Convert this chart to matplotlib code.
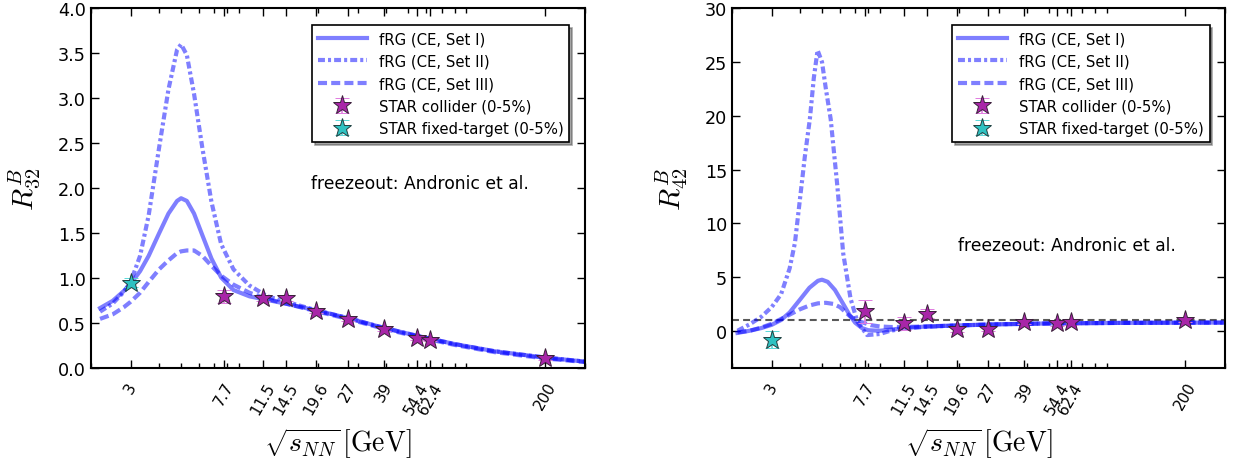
import numpy as np
import matplotlib
matplotlib.use('Agg')
import matplotlib.pyplot as plt
from matplotlib.ticker import FixedLocator, LogLocator, NullFormatter

plt.rcParams['mathtext.fontset'] = 'cm'
plt.rcParams['font.family'] = ['DejaVu Sans']
plt.rcParams['lines.scale_dashes'] = False

# ---------------- data ----------------
tick_energies = [3, 7.7, 11.5, 14.5, 19.6, 27, 39, 54.4, 62.4, 200]
tick_labels = ['3', '7.7', '11.5', '14.5', '19.6', '27', '39', '54.4', '62.4', '200']

star_energies = [7.7, 11.5, 14.5, 19.6, 27, 39, 54.4, 62.4, 200]
star_r32 = [0.80, 0.78, 0.78, 0.64, 0.55, 0.44, 0.34, 0.32, 0.11]
star_r32_err = [0.07, 0.03, 0.03, 0.02, 0.02, 0.02, 0.02, 0.02, 0.02]
star_r42 = [1.80, 0.68, 1.58, 0.18, 0.21, 0.80, 0.68, 0.83, 0.98]
star_r42_err = [1.10, 0.60, 0.40, 0.30, 0.25, 0.20, 0.25, 0.25, 0.20]

ft_energy = [3.0]
ft_r32 = [0.95]
ft_r32_err = [0.05]
ft_r42 = [-0.85]
ft_r42_err = [0.80]

# R32 curves
r32_x = [2.2, 2.5, 2.8, 3.0, 3.3, 3.6, 4.0, 4.4, 4.8, 5.0, 5.3, 5.7, 6.2, 6.8,
         7.5, 8.5, 10, 12, 15, 20, 27, 39, 55, 80, 120, 200, 300]
r32_set1 = [0.67, 0.75, 0.86, 0.94, 1.08, 1.25, 1.50, 1.72, 1.86, 1.89, 1.86, 1.72,
            1.48, 1.22, 1.01, 0.87, 0.80, 0.76, 0.71, 0.64, 0.56, 0.45, 0.36, 0.27,
            0.19, 0.12, 0.075]
r32_set2 = [0.63, 0.72, 0.85, 0.96, 1.25, 1.70, 2.45, 3.10, 3.54, 3.60, 3.48, 3.05,
            2.45, 1.85, 1.38, 1.10, 0.92, 0.80, 0.73, 0.64, 0.56, 0.45, 0.36, 0.27,
            0.19, 0.12, 0.075]
r32_set3 = [0.55, 0.60, 0.68, 0.74, 0.84, 0.96, 1.10, 1.20, 1.28, 1.30, 1.31, 1.31,
            1.25, 1.14, 1.03, 0.93, 0.84, 0.77, 0.71, 0.63, 0.55, 0.44, 0.35, 0.26,
            0.18, 0.11, 0.07]

# R42 curves
r42_x1 = [2.12, 2.4, 2.7, 3.0, 3.3, 3.6, 4.0, 4.4, 4.8, 5.0, 5.3, 5.7, 6.2, 6.6,
          7.0, 7.5, 8.0, 9.0, 10, 11.5, 14, 20, 30, 50, 100, 200, 300]
r42_set1 = [-0.20, 0.00, 0.25, 0.55, 1.00, 1.70, 2.90, 4.00, 4.65, 4.75, 4.55, 3.80,
            2.50, 1.50, 0.75, 0.25, 0.05, 0.00, 0.10, 0.25, 0.38, 0.50, 0.60, 0.68,
            0.73, 0.75, 0.76]
r42_x2 = [2.12, 2.4, 2.7, 3.0, 3.3, 3.6, 3.8, 4.0, 4.2, 4.42, 4.6, 4.78, 5.0, 5.2,
          5.46, 5.84, 6.2, 6.68, 7.16, 7.9, 9.0, 10, 11.5, 14, 20, 30, 50, 100, 200, 300]
r42_set2 = [0.00, 0.60, 1.30, 2.20, 3.40, 5.80, 8.20, 12.3, 16.2, 19.7, 23.5, 26.1,
            25.0, 22.5, 19.7, 13.5, 7.20, 3.00, 0.84, -0.40, -0.30, 0.00, 0.20, 0.35,
            0.50, 0.60, 0.68, 0.73, 0.75, 0.76]
r42_x3 = [2.12, 2.4, 2.7, 3.0, 3.3, 3.6, 4.0, 4.4, 4.8, 5.2, 5.6, 6.0, 6.3, 6.6,
          7.0, 7.5, 8.2, 9.0, 10, 11.5, 14, 20, 30, 50, 100, 200, 300]
r42_set3 = [-0.15, 0.00, 0.30, 0.65, 1.10, 1.50, 2.00, 2.35, 2.55, 2.60, 2.50, 2.20,
            1.80, 1.40, 1.05, 0.80, 0.52, 0.40, 0.35, 0.35, 0.40, 0.50, 0.60, 0.68,
            0.73, 0.75, 0.76]

# ---------------- style ----------------
curve_color = (0.0, 0.0, 1.0, 0.5)
star_face = '#a826a8'
star_err = '#e07ae0'
ft_face = '#2ec2c2'
ft_err = '#5ad8d8'
DASHDOT = (0, (5, 2.2, 2.2, 2.2))
DASHED = (0, (6.5, 3.0))

fig = plt.figure(figsize=(12.35, 4.6), dpi=100)
ax1 = fig.add_axes([0.0734, 0.197, 0.4005, 0.7828])
ax2 = fig.add_axes([0.5925, 0.197, 0.3997, 0.7828])


def style_axis(ax):
    ax.set_xscale('log')
    ax.set_xlim(2, 300)
    ax.xaxis.set_major_locator(FixedLocator(tick_energies))
    ax.set_xticklabels(tick_labels, rotation=60, ha='center', fontsize=11)
    ax.xaxis.set_minor_locator(LogLocator(base=10, subs=range(2, 10), numticks=20))
    ax.xaxis.set_minor_formatter(NullFormatter())
    ax.tick_params(which='both', direction='in', top=True, right=True)
    ax.tick_params(which='major', length=6, width=1)
    ax.tick_params(which='minor', length=3.5, width=1)
    ax.tick_params(axis='y', labelsize=12.7)
    ax.tick_params(axis='x', pad=8)
    for s in ax.spines.values():
        s.set_linewidth(1.5)


def draw(ax, xs, ys, yst, yerrs, fx, fy, fyerr):
    h1, = ax.plot(xs[0], ys[0], color=curve_color, lw=3, ls='-', label='fRG (CE, Set I)')
    h2, = ax.plot(xs[1], ys[1], color=curve_color, lw=3, ls=DASHDOT, label='fRG (CE, Set II)')
    h3, = ax.plot(xs[2], ys[2], color=curve_color, lw=3, ls=DASHED, label='fRG (CE, Set III)')
    e1 = ax.errorbar(star_energies, yst, yerr=yerrs, fmt='*', ms=14, mfc=star_face,
                     mec='#3a203a', mew=0.7, ecolor=star_err, elinewidth=1.2,
                     capsize=5, capthick=1.2, label='STAR collider (0-5%)', zorder=5)
    e2 = ax.errorbar(fx, fy, yerr=fyerr, fmt='*', ms=14, mfc=ft_face,
                     mec='#204040', mew=0.7, ecolor=ft_err, elinewidth=1.2,
                     capsize=5, capthick=1.2, label='STAR fixed-target (0-5%)', zorder=5)
    leg = ax.legend([h1, h2, h3, e1, e2],
                    ['fRG (CE, Set I)', 'fRG (CE, Set II)', 'fRG (CE, Set III)',
                     'STAR collider (0-5%)', 'STAR fixed-target (0-5%)'],
                    loc='upper right', bbox_to_anchor=(0.968, 0.953), borderaxespad=0,
                    fontsize=10.7, shadow=True, fancybox=False, framealpha=1,
                    edgecolor='k', numpoints=1, handlelength=3.3, labelspacing=0.5)
    leg.get_frame().set_linewidth(1.2)


# left panel
draw(ax1, [r32_x, r32_x, r32_x], [r32_set1, r32_set2, r32_set3],
     star_r32, star_r32_err, ft_energy, ft_r32, ft_r32_err)
style_axis(ax1)
ax1.set_ylim(0, 4.0)
ax1.set_yticks(np.arange(0, 4.01, 0.5))
ax1.set_yticklabels(['%.1f' % v for v in np.arange(0, 4.01, 0.5)])
ax1.set_ylabel(r'$R_{32}^{B}$', fontsize=21)
ax1.yaxis.set_label_coords(-0.098, 0.5)
ax1.set_xlabel(r'$\sqrt{s_{NN}}\,[\mathrm{GeV}]$', fontsize=20)
ax1.xaxis.set_label_coords(0.5, -0.158)
ax1.text(0.445, 0.515, 'freezeout: Andronic et al.', transform=ax1.transAxes,
         fontsize=12.3, va='center', ha='left')

# right panel
ax2.axhline(1.0, color='k', alpha=0.65, lw=1.5, ls=(0, (5, 3)), zorder=1)
draw(ax2, [r42_x1, r42_x2, r42_x3], [r42_set1, r42_set2, r42_set3],
     star_r42, star_r42_err, ft_energy, ft_r42, ft_r42_err)
style_axis(ax2)
ax2.set_ylim(-3.5, 30)
ax2.set_yticks([0, 5, 10, 15, 20, 25, 30])
ax2.set_ylabel(r'$R_{42}^{B}$', fontsize=21)
ax2.yaxis.set_label_coords(-0.0845, 0.5)
ax2.set_xlabel(r'$\sqrt{s_{NN}}\,[\mathrm{GeV}]$', fontsize=20)
ax2.xaxis.set_label_coords(0.5, -0.158)
ax2.text(0.458, 0.343, 'freezeout: Andronic et al.', transform=ax2.transAxes,
         fontsize=12.3, va='center', ha='left')

fig.savefig('out.png', dpi=100, facecolor='white')
